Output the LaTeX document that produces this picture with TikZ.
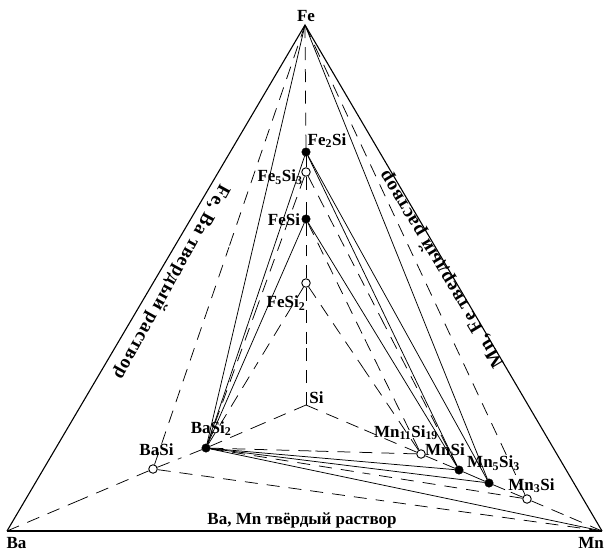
\documentclass[tikz,border=0pt]{standalone}
\usepackage{fontspec}
\setmainfont{Liberation Serif}
\newfontfamily\spacedfont[LetterSpace=5]{Liberation Serif}
\usetikzlibrary{calc}
\newcommand\hidseg[2]{\draw[hid] (#1) -- ($(#1)!0.5!(#2)$); \draw[hid] (#2) -- ($(#1)!0.5!(#2)$);}
\begin{document}
\begin{tikzpicture}[x=1pt,y=-1pt,
  edge/.style={line width=1.1pt},
  tie/.style={line width=0.75pt},
  hid/.style={line width=0.75pt,dash pattern=on 13pt off 9pt},
  fdot/.style={circle,fill=black,draw=black,inner sep=0pt,minimum size=8.5pt},
  odot/.style={circle,fill=white,draw=black,line width=0.9pt,inner sep=0pt,minimum size=8.5pt},
  lbl/.style={font=\fontsize{17}{20}\selectfont\bfseries,inner sep=0pt,anchor=base},
  side/.style={font=\fontsize{19}{22}\spacedfont\bfseries,inner sep=0pt,anchor=center},
]
\useasboundingbox (0,0) rectangle (604,550);
% vertices
\coordinate (Fe) at (305,25);
\coordinate (Ba) at (7,531);
\coordinate (Mn) at (602,531);
\coordinate (Si) at (306,405);
% compounds
\node[fdot] (Fe2Si) at (306,152) {};
\node[odot] (Fe5Si3) at (306,172) {};
\node[fdot] (FeSi) at (306,219) {};
\node[odot] (FeSi2) at (306,283) {};
\node[fdot] (BaSi2) at (206,448) {};
\node[odot] (BaSi) at (153,469) {};
\node[odot] (Mn11Si19) at (421,454) {};
\node[fdot] (MnSi) at (459,470) {};
\node[fdot] (Mn5Si3) at (489,483) {};
\node[odot] (Mn3Si) at (527,499) {};
% outer triangle
\draw[edge] (Ba) -- (Fe) -- (Mn);
\draw[edge] (Ba) -- (Mn);
% hidden edges to Si
\hidseg{Fe}{Fe2Si}
\hidseg{Fe2Si}{Fe5Si3}
\hidseg{Fe5Si3}{FeSi}
\hidseg{FeSi}{FeSi2}
\hidseg{FeSi2}{Si}
\hidseg{Si}{BaSi2}
\hidseg{BaSi2}{BaSi}
\hidseg{BaSi}{Ba}
\hidseg{Si}{Mn11Si19}
\hidseg{Mn11Si19}{MnSi}
\draw[tie] (MnSi) -- (Mn5Si3);
\hidseg{Mn5Si3}{Mn3Si}
\hidseg{Mn3Si}{Mn}
% solid tie lines
\draw[tie] (Fe) -- (BaSi2);
\draw[tie] (Fe2Si) -- (BaSi2);
\draw[tie] (FeSi) -- (BaSi2);
\draw[tie] (Fe) -- (Mn5Si3);
\draw[tie] (Fe2Si) -- (MnSi);
\draw[tie] (Fe2Si) -- (Mn5Si3);
\draw[tie] (FeSi) -- (MnSi);
\draw[tie] (BaSi2) -- (MnSi);
\draw[tie] (BaSi2) -- (Mn5Si3);
\draw[tie] (BaSi2) -- (Mn);
% dashed tie lines
\hidseg{Fe}{BaSi}
\hidseg{Fe}{Mn3Si}
\hidseg{Fe5Si3}{BaSi2}
\hidseg{FeSi2}{BaSi2}
\hidseg{Fe5Si3}{MnSi}
\hidseg{FeSi}{Mn11Si19}
\hidseg{FeSi2}{Mn11Si19}
\hidseg{BaSi2}{Mn11Si19}
\hidseg{BaSi2}{Mn3Si}
\hidseg{BaSi}{Mn}
% labels
\node[lbl] (tFe) at (306,21.5) {Fe};
\node[lbl] (tBa) at (16.5,548) {Ba};
\node[lbl] (tMn) at (591,548) {Mn};
\node[lbl] (tSi) at (316.5,403) {Si};
\node[lbl] (tFe2Si) at (327,145) {Fe\textsubscript{2}Si};
\node[lbl] (tFe5Si3) at (280,181.5) {Fe\textsubscript{5}Si\textsubscript{3}};
\node[lbl] (tFeSi) at (284,225) {FeSi};
\node[lbl] (tFeSi2) at (286,307.5) {FeSi\textsubscript{2}};
\node[lbl] (tBaSi2) at (211,433) {BaSi\textsubscript{2}};
\node[lbl] (tBaSi) at (156.5,455) {BaSi};
\node[lbl] (tMn11Si19) at (406,437) {Mn\textsubscript{11}Si\textsubscript{19}};
\node[lbl] (tMnSi) at (445,455) {MnSi};
\node[lbl] (tMn5Si3) at (493.5,467.5) {Mn\textsubscript{5}Si\textsubscript{3}};
\node[lbl] (tMn3Si) at (531.5,490) {Mn\textsubscript{3}Si};
\node[lbl] (tBaMn) at (302,524) {Ba, Mn твёрдый раствор};
\node[side,rotate=241] (tFeBa) at (171,282) {Fe, Ba твердый раствор};
\node[side,rotate=121] (tMnFe) at (442,269) {Mn, Fe твердый раствор};
\end{tikzpicture}
\end{document}
